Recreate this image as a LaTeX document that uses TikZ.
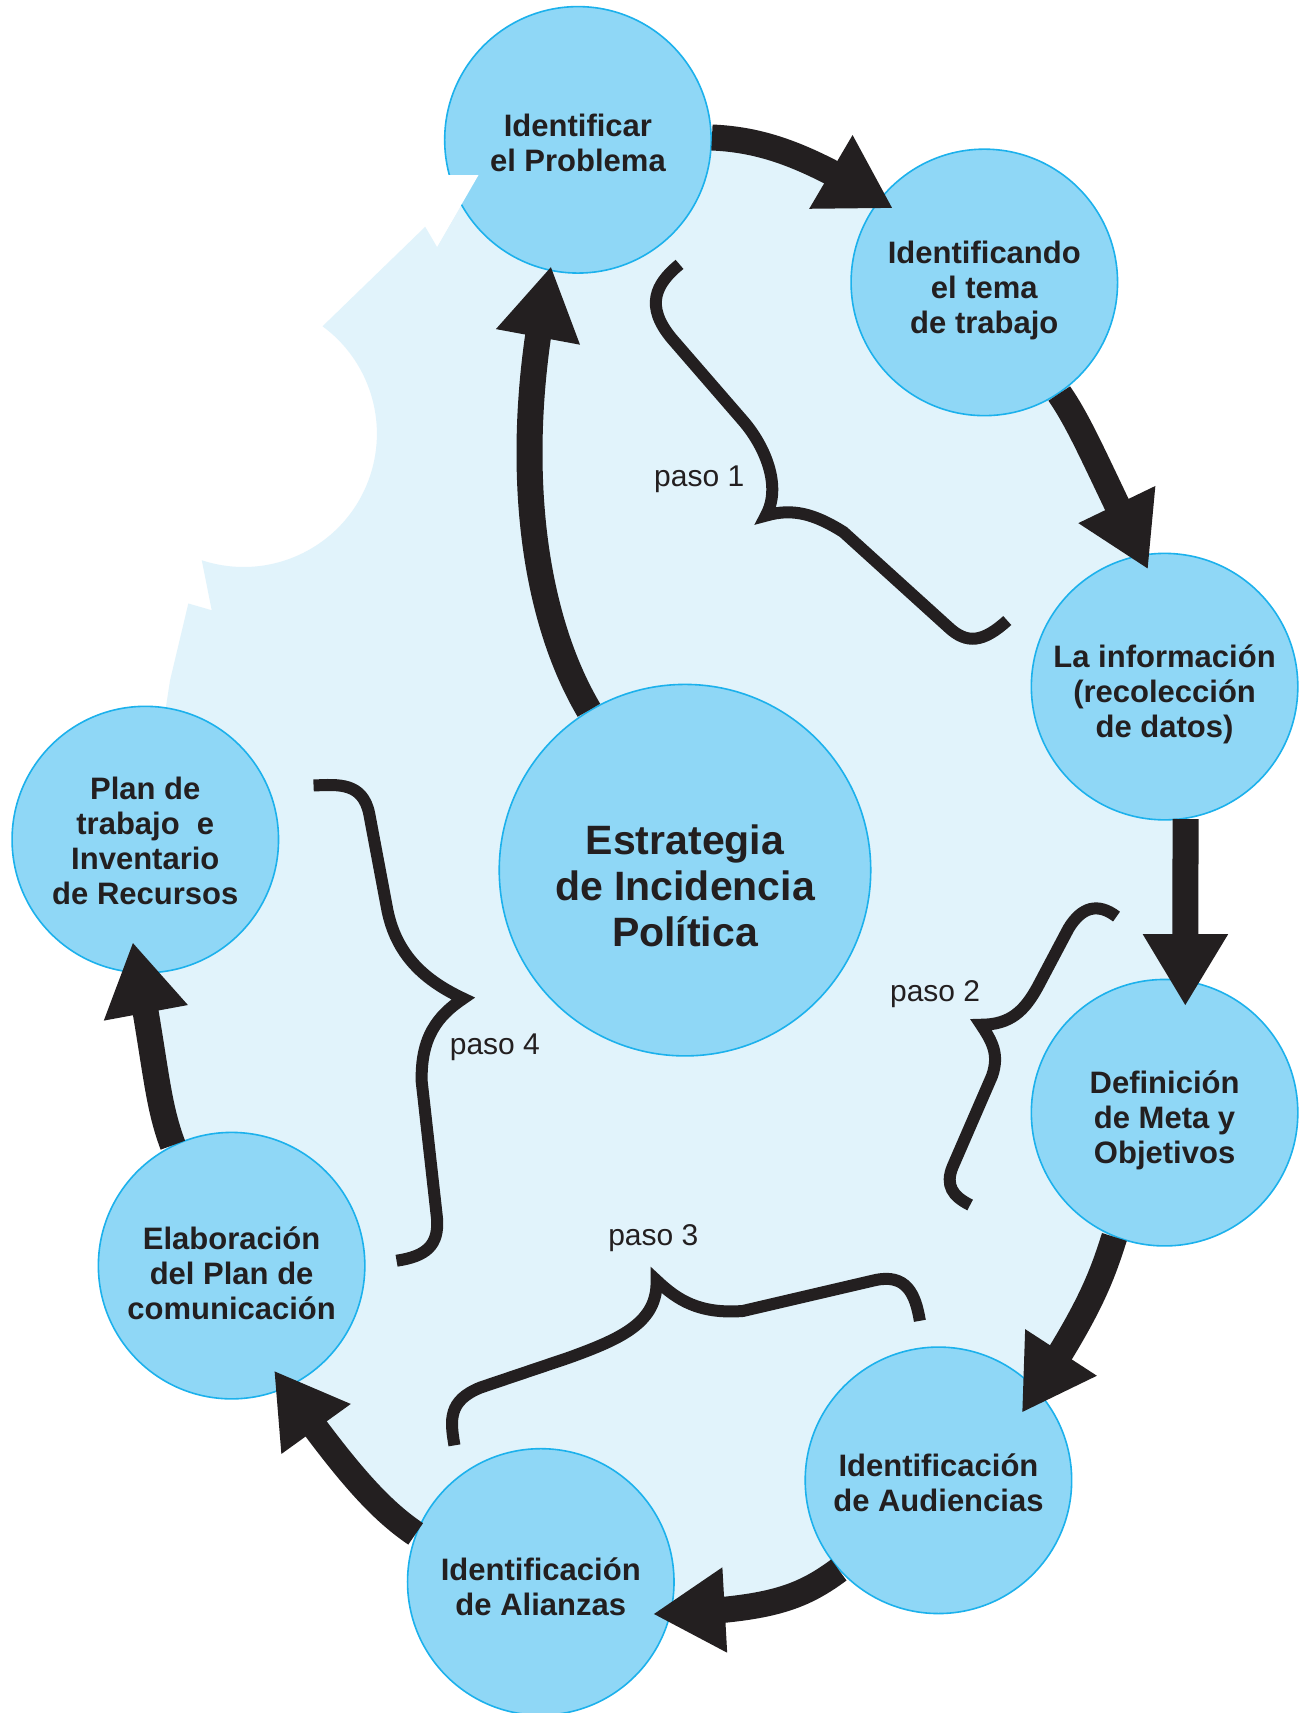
\documentclass[tikz,border=0pt]{standalone}
\usepackage{fontspec}
\setmainfont{Liberation Sans}
\usetikzlibrary{arrows.meta,bending,calc}
\definecolor{ink}{HTML}{231F20}
\definecolor{bgblue}{HTML}{E1F3FB}
\definecolor{cfill}{HTML}{8FD7F6}
\definecolor{cline}{HTML}{1CB1EC}
\begin{document}
\begin{tikzpicture}[x=0.5461pt,y=-0.5461pt,
  bubble/.style={circle, draw=cline, line width=0.8pt, fill=cfill, minimum size=133.2pt, inner sep=0pt},
  bigbubble/.style={bubble, minimum size=185.7pt},
  bubbletext/.style={text=ink, font=\fontsize{15.5}{17.5}\selectfont\bfseries, align=center},
  centertext/.style={text=ink, font=\fontsize{20.5}{23}\selectfont\bfseries, align=center},
  bigarrow/.style={draw=ink, line width=13pt, -{Triangle[length=36pt,width=40pt]}},
  bracepath/.style={draw=ink, line width=6pt, line join=miter, miter limit=30},
  pasolabel/.style={text=ink, font=\fontsize{15}{18}\selectfont}]
\useasboundingbox (0,0) rectangle (1194,1568);
\fill[white] (0,0) rectangle (1194,1568);
% background blob
\fill[bgblue] (529,128) -- (651,125) -- (700,132) -- (763,157) -- (818,191) -- (901,258.5)
  -- (965,352) -- (995,400) -- (1023,466) -- (1050,522) -- (1066,628.5)
  -- (1085,748) -- (1085,921) -- (1066,1018.5)
  -- (1020,1133) -- (1000,1185) -- (972,1239) -- (935,1293) -- (859,1355)
  -- (772,1432) -- (720,1462) -- (654,1475) -- (597,1477) -- (495,1448)
  -- (385,1405) -- (335,1360) -- (287,1307) -- (249,1254) -- (211,1158.5)
  -- (158,1050) -- (142,990) -- (135,924) -- (122,862) -- (133,768.5)
  -- (155.7,622.6) -- (172.4,552.4) -- (193.8,558.6) -- (184.7,512.8)
  arc[start angle=108.3, end angle=-53.7, radius=122]
  -- (389.2,207.6) -- (400,226) -- (438,160.2) -- cycle;
% circles
\node[bubble] (pA) at (529,128) {};
\node[bubble] (pB) at (901,258.5) {};
\node[bubble] (pC) at (1066,628.5) {};
\node[bubble] (pD) at (1066,1018.5) {};
\node[bubble] (pE) at (859,1355) {};
\node[bubble] (pF) at (495,1448) {};
\node[bubble] (pG) at (212,1158.5) {};
\node[bubble] (pH) at (133,768.5) {};
\node[bigbubble] (M) at (627,796.5) {};
% notch cut into the first circle
\fill[white] (400,160.2) -- (438,160.2) -- (400,226) -- cycle;
% texts
\node[bubbletext] (tA) at (529,131) {Identificar\\el Problema};
\node[bubbletext] (tB) at (901,266) {Identificando\\el tema\\de trabajo};
\node[bubbletext] (tC) at (1066,635.5) {La información\\(recolección\\de datos)};
\node[bubbletext] (tD) at (1066,1025.5) {Definición\\de Meta y\\Objetivos};
\node[bubbletext] (tE) at (859,1357.5) {Identificación\\de Audiencias};
\node[bubbletext] (tF) at (495,1452) {Identificación\\de Alianzas};
\node[bubbletext] (tG) at (212,1165.5) {Elaboración\\del Plan de\\comunicación};
\node[bubbletext] (tH) at (133,769.5) {Plan de\\trabajo~~e\\Inventario\\de Recursos};
\node[centertext] (Mt) at (627,811) {Estrategia\\de Incidencia\\Política};
% arrows
\draw[bigarrow] (M.121) .. controls (480,550) and (470,395) .. ($(pA)!0.963!(pA.258)$);
\draw[bigarrow] (pA.1) .. controls (700,128) and (742,143) .. ($(pB)!0.877!(pB.141)$);
\draw[bigarrow] (pB.-56) .. controls (990,390) and (1003,423) .. ($(pC)!0.883!(pC.98)$);
\draw[bigarrow] (pC.-81) -- ($(pD)!0.81!(pD.79)$);
\draw[bigarrow] (pD.248) .. controls (1008,1170) and (997,1202) .. ($(pE)!0.80!(pE.39)$);
\draw[bigarrow] (pE.222) .. controls (730,1465) and (700,1474) .. ($(pF)!0.87!(pF.-16)$);
\draw[bigarrow] (pF.159) .. controls (345,1380) and (313,1343) .. ($(pG)!0.844!(pG.-68)$);
\draw[bigarrow] (pG.116) .. controls (142,1005) and (143,970) .. ($(pH)!0.77!(pH.263)$);
% braces
\draw[bracepath] (622,242) .. controls (600,260) and (590,280) .. (615,310)
  -- (680,385) .. controls (700,408) and (716,445) .. (701,472)
  .. controls (725,465) and (745,470) .. (772,487)
  -- (868,574) .. controls (885,590) and (900,588) .. (922,568);
\draw[bracepath] (1022,839) .. controls (1005,826) and (990,830) .. (978,850)
  -- (950,903) .. controls (938,925) and (925,938) .. (898,938)
  .. controls (908,953) and (915,965) .. (908,985)
  -- (872,1068) .. controls (865,1085) and (872,1095) .. (888,1103);
\draw[bracepath] (416,1323) .. controls (412,1300) and (410,1282) .. (440,1270)
  -- (520,1243) .. controls (570,1225) and (602,1210) .. (601,1172)
  .. controls (620,1190) and (640,1203) .. (680,1200)
  -- (800,1172) .. controls (830,1165) and (838,1185) .. (842,1209);
\draw[bracepath] (287,719) .. controls (310,718) and (332,716) .. (338,745)
  -- (354,830) .. controls (362,875) and (390,898) .. (424,914)
  .. controls (400,930) and (385,950) .. (386,990)
  -- (400,1115) .. controls (402,1140) and (390,1150) .. (363,1154);
% labels
\node[pasolabel] (l1) at (640,439) {paso 1};
\node[pasolabel] (l2) at (856,910) {paso 2};
\node[pasolabel] (l3) at (598,1133) {paso 3};
\node[pasolabel] (l4) at (453,959) {paso 4};
\end{tikzpicture}
\end{document}
